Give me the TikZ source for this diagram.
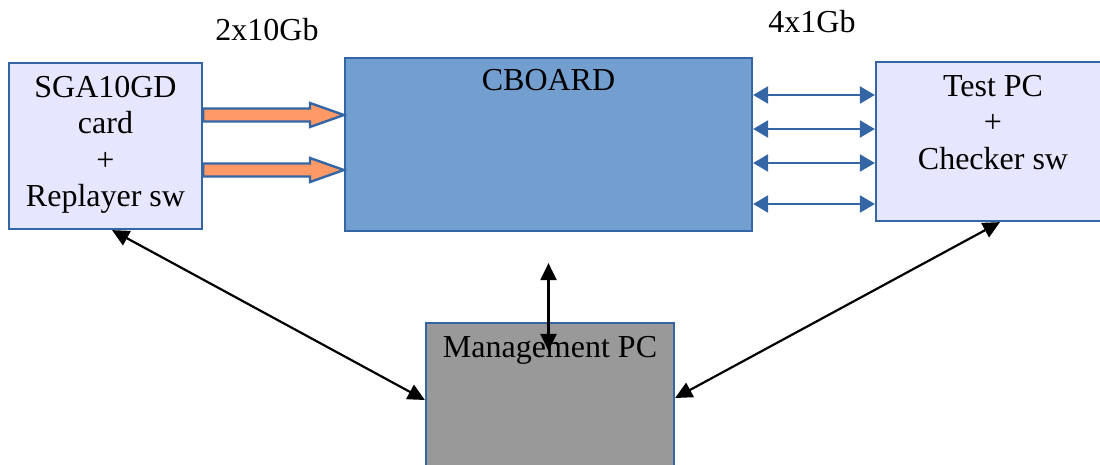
\documentclass[tikz,border=0pt]{standalone}
\usepackage{fontspec}
\setmainfont{Liberation Serif}
\usepackage{xcolor}
\usepackage{tikz}
\usetikzlibrary{calc}
\usetikzlibrary{arrows.meta}
\usetikzlibrary{positioning}
\definecolor{boxblue}{RGB}{52,101,164}
\definecolor{lavender}{RGB}{230,230,255}
\definecolor{boardblue}{RGB}{114,159,207}
\definecolor{fatorange}{RGB}{255,153,102}
\definecolor{mgmtgray}{RGB}{153,153,153}

\begin{document}
\begin{tikzpicture}[x=1pt,y=-1pt,font=\fontsize{32}{36.5}\selectfont,
	box/.style={draw=boxblue,line width=2.2pt,inner sep=0pt},
	boxtext/.style={anchor=north,inner sep=0pt,yshift=-14pt,align=center},
	fatarrow/.style={draw=boxblue,fill=fatorange,line width=2.4pt},
	portlink/.style={boxblue,line width=2.2pt,{Triangle[length=15pt,width=17pt]}-{Triangle[length=15pt,width=17pt]}},
	mgmtlink/.style={black,line width=2.2pt,{Triangle[length=17pt,width=16pt]}-{Triangle[length=17pt,width=16pt]}}]
	\clip (0,0) rectangle (1100,464);
	
	% boxes
	\node [box,fill=lavender,minimum width=193pt,minimum height=166pt,
		label={[boxtext]north:SGA10GD\\card\\+\\Replayer sw}] (sga) at (105.5,146) {};
	\node [box,fill=boardblue,minimum width=407pt,minimum height=173pt,
		label={[boxtext,yshift=2pt]north:CBOARD}] (cboard) at (548.5,144.5) {};
	\node [box,fill=lavender,minimum width=234pt,minimum height=159pt,
		label={[boxtext]north:Test PC\\+\\Checker sw}] (testpc) at (993,141.5) {};
	\node [box,fill=mgmtgray,minimum width=248pt,minimum height=180pt,
		label={[boxtext]north:Management PC}] (mgmt) at (550,413) {};
	
	\node (tengb) at (267,30) {2x10Gb};
	\node (onegb) at (812,22) {4x1Gb};
	
	% 10Gb links
	\foreach \yy in {115,170}
		\draw[fatarrow] (sga.east |- 0,\yy-6.5) -- (310,\yy-6.5) -- (310,\yy-12) -- (cboard.west |- 0,\yy)
			-- (310,\yy+12) -- (310,\yy+6.5) -- (sga.east |- 0,\yy+6.5) -- cycle;
	
	% 1Gb links
	\foreach \yy in {95,129,163,204}
		\draw[portlink] (cboard.east |- 0,\yy) -- (testpc.west |- 0,\yy);
	
	% management
	\coordinate (cbtap) at ($(cboard.south)+(0,31)$);
	\coordinate (mgtap) at ($(cbtap |- mgmt.north)+(0,29)$);
	\draw[mgmtlink] ($(sga.south)+(6.5,0)$) -- (mgmt.west |- 0,400);
	\draw[mgmtlink] ($(testpc.south)+(7,0)$) -- (mgmt.east |- 0,398);
	\draw[mgmtlink] (cbtap) -- (mgtap);
	
\end{tikzpicture}
\end{document}
